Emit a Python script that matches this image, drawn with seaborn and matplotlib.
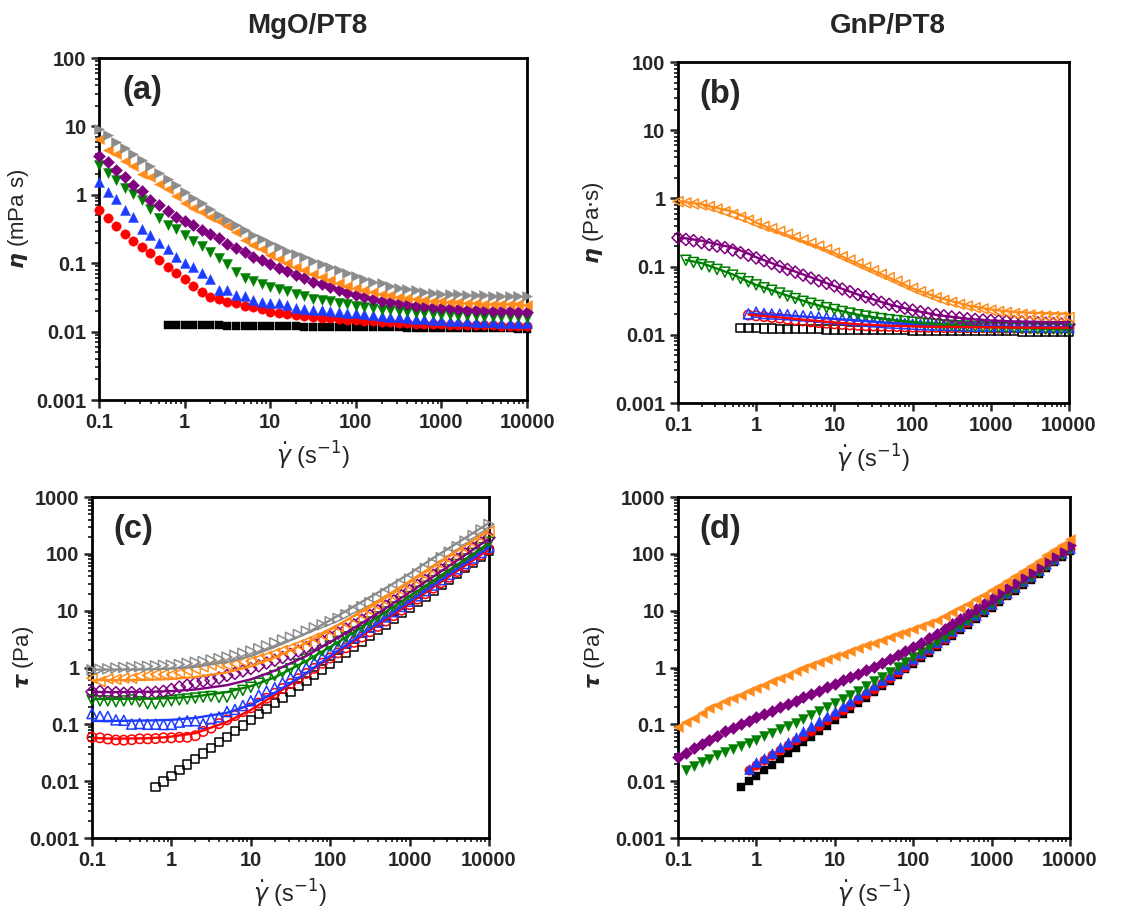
import numpy as np
import matplotlib
matplotlib.use("Agg")
import matplotlib.pyplot as plt
from matplotlib.ticker import LogLocator, NullFormatter, FixedLocator, FixedFormatter
import seaborn as sns

# shear rate grid (s^-1), 10 points per decade
shear_rate = [0.1, 0.126, 0.158, 0.2, 0.251, 0.316, 0.398, 0.501, 0.631, 0.794,
              1, 1.26, 1.58, 2, 2.51, 3.16, 3.98, 5.01, 6.31, 7.94,
              10, 12.6, 15.8, 20, 25.1, 31.6, 39.8, 50.1, 63.1, 79.4,
              100, 126, 158, 200, 251, 316, 398, 501, 631, 794,
              1000, 1260, 1580, 2000, 2510, 3160, 3980, 5010, 6310, 7940, 10000]

# base fluid PT8 viscosity
eta_pt8 = [None] * 8 + [
    0.0126, 0.0125, 0.0125, 0.0124, 0.0124, 0.0123, 0.0123, 0.0122, 0.0122, 0.0121,
    0.0121, 0.0120, 0.0120, 0.0120, 0.0119, 0.0119, 0.0118, 0.0118, 0.0118, 0.0117,
    0.0117, 0.0117, 0.0116, 0.0116, 0.0116, 0.0115, 0.0115, 0.0115, 0.0114, 0.0114,
    0.0114, 0.0114, 0.0113, 0.0113, 0.0113, 0.0113, 0.0112, 0.0112, 0.0112, 0.0112,
    0.0112, 0.0111, 0.0111]

# MgO/PT8 viscosity
eta_mgo_red = [0.59, 0.46, 0.35, 0.265, 0.21, 0.17, 0.14, 0.111, 0.089, 0.073,
               0.058, 0.047, 0.0375, 0.0316, 0.0299, 0.0273, 0.0259, 0.024, 0.0226, 0.0211,
               0.0195, 0.0188, 0.0182, 0.0176, 0.017, 0.0165, 0.016, 0.0157, 0.0153, 0.015,
               0.0147, 0.0144, 0.0141, 0.0139, 0.0137, 0.0135, 0.0133, 0.0131, 0.013, 0.0129,
               0.0128, 0.0127, 0.0126, 0.0125, 0.0124, 0.0123, 0.0123, 0.0122, 0.0122, 0.0121, 0.012]
eta_mgo_blue = [1.55, 1.1, 0.87, 0.6, 0.47, 0.32, 0.26, 0.2, 0.16, 0.125,
                0.1, 0.087, 0.073, 0.058, 0.041, 0.04, 0.034, 0.0335, 0.029, 0.027,
                0.026, 0.026, 0.0244, 0.022, 0.0215, 0.021, 0.0205, 0.02, 0.0195, 0.019,
                0.0185, 0.018, 0.0175, 0.017, 0.0166, 0.0162, 0.0158, 0.0155, 0.0152, 0.015,
                0.0147, 0.0145, 0.0143, 0.0141, 0.014, 0.0138, 0.0137, 0.0135, 0.0134, 0.0133, 0.0132]
eta_mgo_green = [2.7, 2.06, 1.64, 1.25, 1.03, 0.85, 0.63, 0.46, 0.365, 0.315,
                 0.26, 0.214, 0.177, 0.145, 0.12, 0.098, 0.075, 0.06, 0.055, 0.05,
                 0.045, 0.042, 0.039, 0.036, 0.033, 0.03, 0.029, 0.028, 0.026, 0.025,
                 0.024, 0.023, 0.022, 0.021, 0.0205, 0.02, 0.0195, 0.019, 0.0185, 0.018,
                 0.0177, 0.0174, 0.0171, 0.0169, 0.0167, 0.0165, 0.0164, 0.0163, 0.0162, 0.0161, 0.016]
eta_mgo_purple = [3.75, 3.0, 2.3, 1.8, 1.4, 1.14, 0.85, 0.72, 0.58, 0.48,
                  0.41, 0.36, 0.31, 0.27, 0.23, 0.19, 0.165, 0.145, 0.125, 0.11,
                  0.096, 0.085, 0.076, 0.067, 0.06, 0.054, 0.049, 0.045, 0.041, 0.037,
                  0.034, 0.032, 0.03, 0.028, 0.027, 0.026, 0.025, 0.024, 0.0235, 0.023,
                  0.0225, 0.022, 0.0215, 0.021, 0.0207, 0.0204, 0.0201, 0.0199, 0.0197, 0.0195, 0.0194]
eta_mgo_orange = [6.5, 4.5, 4.0, 3.1, 2.6, 2.05, 1.8, 1.45, 1.2, 0.95,
                  0.75, 0.64, 0.56, 0.47, 0.41, 0.35, 0.29, 0.22, 0.185, 0.16,
                  0.13, 0.114, 0.1, 0.089, 0.08, 0.07, 0.063, 0.057, 0.052, 0.047,
                  0.044, 0.041, 0.038, 0.036, 0.034, 0.032, 0.031, 0.03, 0.029, 0.0283,
                  0.0277, 0.0272, 0.0267, 0.0263, 0.026, 0.0257, 0.0255, 0.0253, 0.0251, 0.025, 0.0248]
eta_mgo_gray = [9.1, 7.4, 6.0, 4.9, 4.0, 3.2, 2.6, 2.1, 1.7, 1.38,
                1.1, 0.9, 0.75, 0.62, 0.51, 0.43, 0.36, 0.305, 0.26, 0.225,
                0.195, 0.17, 0.152, 0.136, 0.122, 0.108, 0.096, 0.087, 0.079, 0.071,
                0.064, 0.058, 0.054, 0.051, 0.047, 0.044, 0.042, 0.04, 0.038, 0.037,
                0.036, 0.0355, 0.035, 0.0346, 0.0342, 0.0338, 0.0336, 0.0334, 0.0333, 0.0332, 0.033]

# GnP/PT8 viscosity
eta_gnp_red = [None] * 9 + [
    0.0195, 0.019, 0.0185, 0.018, 0.0175, 0.017, 0.0165, 0.016, 0.0155, 0.0151,
    0.0148, 0.0145, 0.0142, 0.014, 0.0138, 0.0136, 0.0135, 0.0134, 0.0133, 0.0132,
    0.0131, 0.013, 0.013, 0.0129, 0.0129, 0.0128, 0.0128, 0.0128, 0.0127, 0.0127,
    0.0127, 0.0126, 0.0126, 0.0126, 0.0126, 0.0125, 0.0125, 0.0125, 0.0125, 0.0125,
    0.0125, 0.0124]
eta_gnp_blue = [None] * 9 + [
    0.0203, 0.0215, 0.0205, 0.0202, 0.02, 0.0197, 0.0193, 0.019, 0.0186, 0.0182,
    0.0178, 0.0174, 0.017, 0.0166, 0.0162, 0.0158, 0.0155, 0.0152, 0.0149, 0.0147,
    0.0145, 0.0143, 0.0141, 0.014, 0.0139, 0.0138, 0.0137, 0.0136, 0.0135, 0.0134,
    0.0134, 0.0133, 0.0133, 0.0132, 0.0132, 0.0131, 0.0131, 0.013, 0.013, 0.013,
    0.0129, 0.0129]
eta_gnp_green = [None, 0.124, 0.115, 0.107, 0.099, 0.091, 0.083, 0.075, 0.067, 0.06,
                 0.054, 0.049, 0.045, 0.041, 0.037, 0.034, 0.031, 0.029, 0.027, 0.025,
                 0.0235, 0.022, 0.0208, 0.0197, 0.0188, 0.018, 0.0173, 0.0167, 0.0162, 0.0157,
                 0.0153, 0.0149, 0.0146, 0.0143, 0.014, 0.0138, 0.0136, 0.0134, 0.0132, 0.013,
                 0.0129, 0.0128, 0.0127, 0.0126, 0.0125, 0.0124, 0.0123, 0.0122, 0.0122, 0.0121, 0.012]
eta_gnp_purple = [0.265, 0.25, 0.24, 0.225, 0.21, 0.2, 0.19, 0.175, 0.16, 0.147,
                  0.134, 0.122, 0.111, 0.1, 0.091, 0.083, 0.075, 0.068, 0.062, 0.057,
                  0.052, 0.047, 0.043, 0.039, 0.036, 0.033, 0.03, 0.028, 0.026, 0.0245,
                  0.023, 0.0218, 0.0207, 0.0198, 0.019, 0.0183, 0.0177, 0.0172, 0.0168, 0.0165,
                  0.0162, 0.016, 0.0158, 0.0156, 0.0154, 0.0152, 0.015, 0.0148, 0.0146, 0.0144, 0.0142]
eta_gnp_orange = [0.9, 0.86, 0.83, 0.8, 0.76, 0.7, 0.64, 0.58, 0.53, 0.48,
                  0.43, 0.39, 0.36, 0.33, 0.3, 0.27, 0.245, 0.22, 0.2, 0.178,
                  0.158, 0.14, 0.125, 0.11, 0.098, 0.087, 0.077, 0.069, 0.061, 0.054,
                  0.048, 0.043, 0.039, 0.035, 0.032, 0.03, 0.028, 0.0265, 0.025, 0.024,
                  0.023, 0.022, 0.0213, 0.0205, 0.02, 0.0195, 0.019, 0.0188, 0.0185, 0.0183, 0.018]

# model fit curves
fit_rate = [0.1, 0.126, 0.2, 0.5, 0.8, 1, 2, 5, 10, 20, 50, 100, 200, 500, 1000, 2000, 5000, 10000]

fit_tau_mgo_red = [0.057, 0.057, 0.056, 0.057, 0.059, 0.061, 0.07, 0.11, 0.18, 0.33, 0.78, 1.5, 2.9, 7.0, 13.5, 26, 62, 120]
fit_tau_mgo_blue = [0.115, 0.115, 0.115, 0.117, 0.119, 0.12, 0.13, 0.16, 0.22, 0.36, 0.8, 1.6, 3.1, 7.5, 14.5, 28, 67, 130]
fit_tau_mgo_green = [0.28, 0.28, 0.28, 0.285, 0.288, 0.29, 0.31, 0.37, 0.47, 0.67, 1.3, 2.3, 4.2, 9.5, 18, 34, 80, 155]
fit_tau_mgo_purple = [0.37, 0.37, 0.37, 0.375, 0.38, 0.385, 0.41, 0.49, 0.62, 0.88, 1.6, 2.8, 5.0, 11, 21, 40, 95, 185]
fit_tau_mgo_orange = [0.6, 0.6, 0.6, 0.61, 0.62, 0.63, 0.68, 0.82, 1.05, 1.5, 2.7, 4.6, 8.2, 18, 33, 62, 140, 260]
fit_tau_mgo_gray = [0.92, 0.92, 0.92, 0.93, 0.95, 0.96, 1.03, 1.25, 1.6, 2.3, 4.0, 6.8, 12, 25, 45, 85, 190, 350]

fit_eta_gnp_red = [None, None, None, None, 0.0198, 0.0193, 0.018, 0.0163, 0.0152, 0.0143, 0.0136, 0.0133, 0.0131, 0.013, 0.0129, 0.0128, 0.0127, 0.0127]
fit_eta_gnp_blue = [None, None, None, None, 0.0205, 0.0203, 0.0195, 0.0182, 0.0172, 0.0162, 0.015, 0.0143, 0.0139, 0.0135, 0.0133, 0.0131, 0.013, 0.0129]
fit_eta_gnp_green = [None, 0.125, 0.113, 0.077, 0.06, 0.054, 0.041, 0.029, 0.0235, 0.0197, 0.0167, 0.0153, 0.0143, 0.0134, 0.0129, 0.0126, 0.0123, 0.0121]
fit_eta_gnp_purple = [0.27, 0.26, 0.24, 0.19, 0.155, 0.137, 0.102, 0.07, 0.052, 0.039, 0.028, 0.023, 0.0196, 0.0172, 0.0162, 0.0157, 0.0154, 0.0153]
fit_eta_gnp_orange = [0.92, 0.88, 0.82, 0.64, 0.51, 0.44, 0.32, 0.215, 0.158, 0.11, 0.069, 0.048, 0.036, 0.027, 0.0235, 0.0215, 0.0207, 0.0204]

C_BLACK = "#000000"
C_RED = "#ff0000"
C_BLUE = "#1e3cff"
C_GREEN = "#008000"
C_PURPLE = "#800080"
C_ORANGE = "#ff8c1a"
C_GRAY = "#8c8c8c"

# marker areas (pt^2)
S_TRI, S_CIRC, S_SQ, S_DIA = 52, 46, 36, 38


def arr(v):
    return np.array([np.nan if a is None else a for a in v], dtype=float)


def stress(eta):
    # shear stress = viscosity * shear rate
    return arr(eta) * np.array(shear_rate)


def points(ax, y, marker, color, filled, size=S_TRI):
    y = arr(y)
    if filled:
        sns.scatterplot(x=shear_rate, y=y, marker=marker, s=size, color=color,
                        edgecolor=color, linewidth=0.3, ax=ax, legend=False,
                        clip_on=False, zorder=3)
    else:
        sns.scatterplot(x=shear_rate, y=y, marker=marker, s=size, color=color,
                        facecolor="none", edgecolor=color, linewidth=1.1, ax=ax,
                        legend=False, clip_on=False, zorder=3)


def fit_line(ax, y, color):
    y = arr(y)
    ok = ~np.isnan(y)
    sns.lineplot(x=np.array(fit_rate)[ok], y=y[ok], color=color, lw=1.7, ax=ax,
                 estimator=None, sort=False, legend=False, zorder=4)


def style_axis(ax, ymax, ylabel, label_x):
    ax.set_xscale("log")
    ax.set_yscale("log")
    ax.set_xlim(0.1, 10000)
    ax.set_ylim(0.001, ymax)
    xt = [0.1, 1, 10, 100, 1000, 10000]
    ax.xaxis.set_major_locator(FixedLocator(xt))
    ax.xaxis.set_major_formatter(FixedFormatter(["0.1", "1", "10", "100", "1000", "10000"]))
    yt = [0.001, 0.01, 0.1, 1, 10, 100, 1000]
    yl = ["0.001", "0.01", "0.1", "1", "10", "100", "1000"]
    n = 6 if ymax == 100 else 7
    ax.yaxis.set_major_locator(FixedLocator(yt[:n]))
    ax.yaxis.set_major_formatter(FixedFormatter(yl[:n]))
    for axis in (ax.xaxis, ax.yaxis):
        axis.set_minor_locator(LogLocator(base=10, subs=np.arange(2, 10)))
        axis.set_minor_formatter(NullFormatter())
    ax.tick_params(which="major", direction="out", length=6, width=1.8,
                   labelsize=14.5, pad=3)
    ax.tick_params(which="minor", direction="out", length=3, width=1.3)
    for lab in ax.get_xticklabels() + ax.get_yticklabels():
        lab.set_fontweight("bold")
    for sp in ax.spines.values():
        sp.set_linewidth(2.0)
        sp.set_color("black")
    ax.set_xlabel(r"$\dot{\gamma}$ (s$^{-1}$)", fontsize=17, labelpad=6)
    ax.set_ylabel(ylabel, fontsize=16)
    ax.yaxis.set_label_coords(label_x, 0.53)


sns.set_style("ticks")
plt.rcParams["font.family"] = ["Liberation Sans", "DejaVu Sans"]
plt.rcParams["mathtext.fontset"] = "dejavusans"

fig = plt.figure(figsize=(11.33, 9.11), dpi=100)
ax_a = fig.add_axes([0.0874, 0.5609, 0.3778, 0.3754])
ax_b = fig.add_axes([0.5984, 0.5576, 0.3451, 0.3743])
ax_c = fig.add_axes([0.0812, 0.0801, 0.3504, 0.3743])
ax_d = fig.add_axes([0.5984, 0.0801, 0.3460, 0.3743])

# (a) MgO viscosity
points(ax_a, eta_pt8, "s", C_BLACK, True, size=S_SQ)
points(ax_a, eta_mgo_red, "o", C_RED, True, size=S_CIRC)
points(ax_a, eta_mgo_blue, "^", C_BLUE, True)
points(ax_a, eta_mgo_green, "v", C_GREEN, True)
points(ax_a, eta_mgo_purple, "D", C_PURPLE, True, size=S_DIA)
points(ax_a, eta_mgo_orange, "<", C_ORANGE, True)
points(ax_a, eta_mgo_gray, ">", C_GRAY, True)
style_axis(ax_a, 100, r"$\boldsymbol{\eta}$ (mPa s)", -0.16)

# (b) GnP viscosity with fits
points(ax_b, eta_pt8, "s", C_BLACK, False, size=S_SQ)
points(ax_b, eta_gnp_red, "o", C_RED, False, size=S_CIRC)
points(ax_b, eta_gnp_blue, "^", C_BLUE, False)
points(ax_b, eta_gnp_green, "v", C_GREEN, False)
points(ax_b, eta_gnp_purple, "D", C_PURPLE, False, size=S_DIA)
points(ax_b, eta_gnp_orange, "<", C_ORANGE, False)
fit_line(ax_b, fit_eta_gnp_blue, C_BLUE)
fit_line(ax_b, fit_eta_gnp_green, C_GREEN)
fit_line(ax_b, fit_eta_gnp_purple, C_PURPLE)
fit_line(ax_b, fit_eta_gnp_orange, C_ORANGE)
fit_line(ax_b, fit_eta_gnp_red, C_RED)
style_axis(ax_b, 100, r"$\boldsymbol{\eta}$ (Pa$\cdot$s)", -0.185)

# (c) MgO shear stress with fits
points(ax_c, stress(eta_pt8), "s", C_BLACK, False, size=S_SQ)
points(ax_c, stress(eta_mgo_red), "o", C_RED, False, size=S_CIRC)
points(ax_c, stress(eta_mgo_blue), "^", C_BLUE, False)
points(ax_c, stress(eta_mgo_green), "v", C_GREEN, False)
points(ax_c, stress(eta_mgo_purple), "D", C_PURPLE, False, size=S_DIA)
points(ax_c, stress(eta_mgo_orange), "<", C_ORANGE, False)
points(ax_c, stress(eta_mgo_gray), ">", C_GRAY, False)
fit_line(ax_c, fit_tau_mgo_red, C_RED)
fit_line(ax_c, fit_tau_mgo_blue, C_BLUE)
fit_line(ax_c, fit_tau_mgo_green, C_GREEN)
fit_line(ax_c, fit_tau_mgo_purple, C_PURPLE)
fit_line(ax_c, fit_tau_mgo_orange, C_ORANGE)
fit_line(ax_c, fit_tau_mgo_gray, C_GRAY)
style_axis(ax_c, 1000, r"$\boldsymbol{\tau}$ (Pa)", -0.14)

# (d) GnP shear stress
points(ax_d, stress(eta_pt8), "s", C_BLACK, True, size=S_SQ)
points(ax_d, stress(eta_gnp_red), "o", C_RED, True, size=S_CIRC)
points(ax_d, stress(eta_gnp_blue), "^", C_BLUE, True)
points(ax_d, stress(eta_gnp_green), "v", C_GREEN, True)
points(ax_d, stress(eta_gnp_purple), "D", C_PURPLE, True, size=S_DIA)
points(ax_d, stress(eta_gnp_orange), "<", C_ORANGE, True)
style_axis(ax_d, 1000, r"$\boldsymbol{\tau}$ (Pa)", -0.18)

for ax, lab in zip([ax_a, ax_b, ax_c, ax_d], ["(a)", "(b)", "(c)", "(d)"]):
    ax.text(0.055, 0.95, lab, transform=ax.transAxes, fontsize=23.5,
            fontweight="bold", va="top", ha="left")

fig.text(0.271, 0.971, "MgO/PT8", fontsize=20, fontweight="bold", ha="center", va="center")
fig.text(0.784, 0.971, "GnP/PT8", fontsize=20, fontweight="bold", ha="center", va="center")

fig.savefig("out.png", dpi=100)
